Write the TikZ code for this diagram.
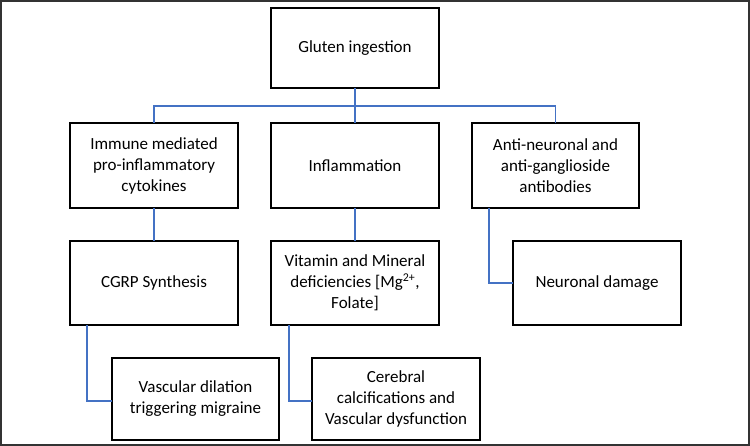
\documentclass[tikz,border=0pt]{standalone}
\usepackage{fontspec}
\setmainfont{Carlito}
\begin{document}
\begin{tikzpicture}[x=1pt,y=-1pt,
 box/.style={draw=black,line width=1.2pt},
 lbl/.style={align=center,font=\fontsize{17}{21}\selectfont},
 conn/.style={draw={rgb,255:red,68;green,114;blue,196},line width=1.4pt}]
\useasboundingbox (0,0) rectangle (750,446);
\draw[line width=1.2pt,draw=black!80] (1,1) rectangle (749,445);
\newcommand{\bx}[6]{\draw[box] (#2,#3) rectangle (#4,#5); \node[lbl] (#1) at ({(#2+#4)/2},{(#3+#5)/2}) {#6};
 \coordinate (#1-n) at ({(#2+#4)/2},#3); \coordinate (#1-s) at ({(#2+#4)/2},#5); \coordinate (#1-w) at (#2,{(#3+#5)/2});}
\bx{g}{271}{8}{439}{88}{Gluten ingestion}
\bx{a}{70}{123}{238}{208}{Immune mediated\\pro-inflammatory\\cytokines}
\bx{b}{271}{123}{439}{208}{Inflammation}
\bx{c}{472}{123}{639}{208}{Anti-neuronal and\\anti-ganglioside\\antibodies}
\bx{d}{70}{241}{238}{325}{CGRP Synthesis}
\bx{e}{271}{241}{439}{325}{Vitamin and Mineral\\deficiencies [Mg\textsuperscript{2+},\\Folate]}
\bx{f}{513}{241}{681}{325}{Neuronal damage}
\bx{h}{112}{358}{279}{440}{Vascular dilation\\triggering migraine}
\bx{i}{312}{358}{480}{440}{Cerebral\\calcifications and\\Vascular dysfunction}
\coordinate (bus) at (355,106);
\draw[conn] (g-s) -- (bus);
\draw[conn] (a-n) |- (bus) -| (c-n);
\draw[conn] (bus) -- (b-n);
\draw[conn] (a-s) -- (d-n);
\draw[conn] (b-s) -- (e-n);
\draw[conn] (489,208) |- (f-w);
\draw[conn] (87,325) |- (112,401);
\draw[conn] (289,325) |- (312,401);
\end{tikzpicture}
\end{document}
